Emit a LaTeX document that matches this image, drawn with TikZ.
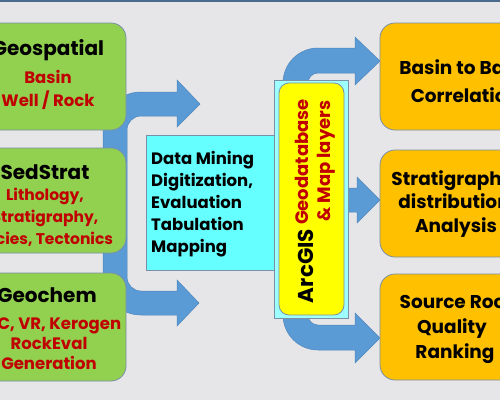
\documentclass[tikz,border=0pt]{standalone}
\usepackage{fontspec}
\setmainfont{Poppins}
\definecolor{bg}{HTML}{E6E5E7}
\definecolor{topl}{HTML}{4A6A90}
\definecolor{gfill}{HTML}{92D050}
\definecolor{ofill}{HTML}{FFC000}
\definecolor{cfill}{HTML}{66FFFF}
\definecolor{lcfill}{HTML}{9EFFFF}
\definecolor{yfill}{HTML}{FFFF00}
\definecolor{bord}{HTML}{7A8FA8}
\definecolor{arr}{HTML}{5B9BD5}
\definecolor{arrb}{HTML}{4E86BE}
\definecolor{dred}{HTML}{C00000}
\begin{document}
\begin{tikzpicture}[x=1pt,y=-1pt,
  box/.style={draw=bord,line width=0.8pt,inner sep=0pt},
  gbox/.style={box,fill=gfill,rounded corners=15pt,minimum width=156pt},
  obox/.style={box,fill=ofill,rounded corners=15pt,minimum width=155pt},
  bluearrow/.style={fill=arr,draw=arrb,line width=0.5pt},
  txt/.style={anchor=base,inner sep=0pt,font=\bfseries},
  gtitle/.style={txt,font=\bfseries\fontsize{20}{24}\selectfont},
  gred/.style={txt,text=dred,font=\bfseries\fontsize{16.5}{20}\selectfont},
  sred/.style={txt,text=dred,font=\bfseries\fontsize{15.5}{20}\selectfont},
  ctxt/.style={anchor=base west,inner sep=0pt,font=\bfseries\fontsize{16.5}{20}\selectfont},
  otxt/.style={txt,font=\bfseries\fontsize{18.5}{24}\selectfont}]
\useasboundingbox (0,0) rectangle (500,400);
\fill[bg] (0,0) rectangle (500,400);
\draw[topl,line width=1.5pt] (0,0.75) -- (500,0.75);

% arrows (drawn under the boxes)
\draw[bluearrow] (200,104) -- (177,80) -- (177,92) -- (141,92)
  arc[start angle=270,end angle=180,radius=38] -- (103,277)
  arc[start angle=180,end angle=90,radius=38] -- (177,315) -- (177,326)
  -- (199,303) -- (177,280) -- (177,291) -- (141,291)
  arc[start angle=90,end angle=180,radius=14] -- (127,130)
  arc[start angle=180,end angle=270,radius=14] -- (177,116) -- (177,127) -- cycle;
\draw[bluearrow] (380,61) -- (355,37) -- (355,48) -- (318,48)
  arc[start angle=270,end angle=180,radius=35] -- (283,100) -- (308,100) -- (308,83)
  arc[start angle=180,end angle=270,radius=10] -- (355,73) -- (355,85) -- cycle;
\draw[bluearrow] (380,338) -- (355,313) -- (355,325) -- (318,325)
  arc[start angle=90,end angle=180,radius=10] -- (308,300) -- (283,300) -- (283,315)
  arc[start angle=180,end angle=90,radius=35] -- (355,350) -- (355,363) -- cycle;
\draw[bluearrow] (380,200) -- (357,177) -- (357,188) -- (340,188) -- (340,212)
  -- (357,212) -- (357,223) -- cycle;

% green boxes
\node[gbox,minimum height=107pt] (geo) at (48,76.5) {};
\node[gbox,minimum height=105pt] (sed) at (48,200.5) {};
\node[gbox,minimum height=108pt] (gch) at (48,327) {};
\node[gtitle] (geoT) at (48,55) {Geospatial};
\node[gred] (geo1) at (48,83) {Basin};
\node[gred] (geo2) at (48,106) {Well / Rock};
\node[gtitle] (sedT) at (45,179) {SedStrat};
\node[sred] (sed1) at (45,200) {Lithology,};
\node[sred] (sed2) at (45,222) {Stratigraphy,};
\node[sred] (sed3) at (45,244) {Facies, Tectonics};
\node[gtitle] (gchT) at (47,302) {Geochem};
\node[gred] (gch1) at (48,329) {TOC, VR, Kerogen};
\node[gred] (gch2) at (49,349) {RockEval};
\node[gred] (gch3) at (49,369) {Generation};

% cyan box
\node[box,fill=cfill,minimum width=129pt,minimum height=135pt] (dm) at (210.5,202.5) {};
\node[ctxt] (dm1) at (151,164) {Data Mining};
\node[ctxt] (dm2) at (151,186) {Digitization,};
\node[ctxt] (dm3) at (151,208) {Evaluation};
\node[ctxt] (dm4) at (151,230) {Tabulation};
\node[ctxt] (dm5) at (151,252) {Mapping};

% ArcGIS
\node[box,fill=lcfill,minimum width=74pt,minimum height=238pt] (gisO) at (311,199) {};
\node[box,fill=yfill,rounded corners=10pt,minimum width=65pt,minimum height=232pt] (gis) at (311.5,199) {};
\node[txt,rotate=90,font=\bfseries\fontsize{21.5}{24}\selectfont] (gisA) at (313,266) {ArcGIS};
\node[txt,rotate=90,text=dred,font=\bfseries\fontsize{18}{22}\selectfont] (gisB) at (308,162) {Geodatabase};
\node[txt,rotate=90,text=dred,font=\bfseries\fontsize{18}{22}\selectfont] (gisC) at (330,161) {\& Map layers};

% orange boxes
\node[obox,minimum height=107pt] (bb) at (457.5,76.5) {};
\node[obox,minimum height=107pt] (sd) at (457.5,203.5) {};
\node[obox,minimum height=106pt] (sr) at (457.5,327) {};
\node[otxt] (bb1) at (466,74) {Basin to Basin};
\node[otxt] (bb2) at (465,102) {Correlation};
\node[otxt] (sd1) at (455,185) {Stratigraphic};
\node[otxt] (sd2) at (454,208) {distribution};
\node[otxt] (sd3) at (456,232) {Analysis};
\node[otxt] (sr1) at (458,308) {Source Rock};
\node[otxt] (sr2) at (452,333) {Quality};
\node[otxt] (sr3) at (455,358) {Ranking};
\end{tikzpicture}
\end{document}
